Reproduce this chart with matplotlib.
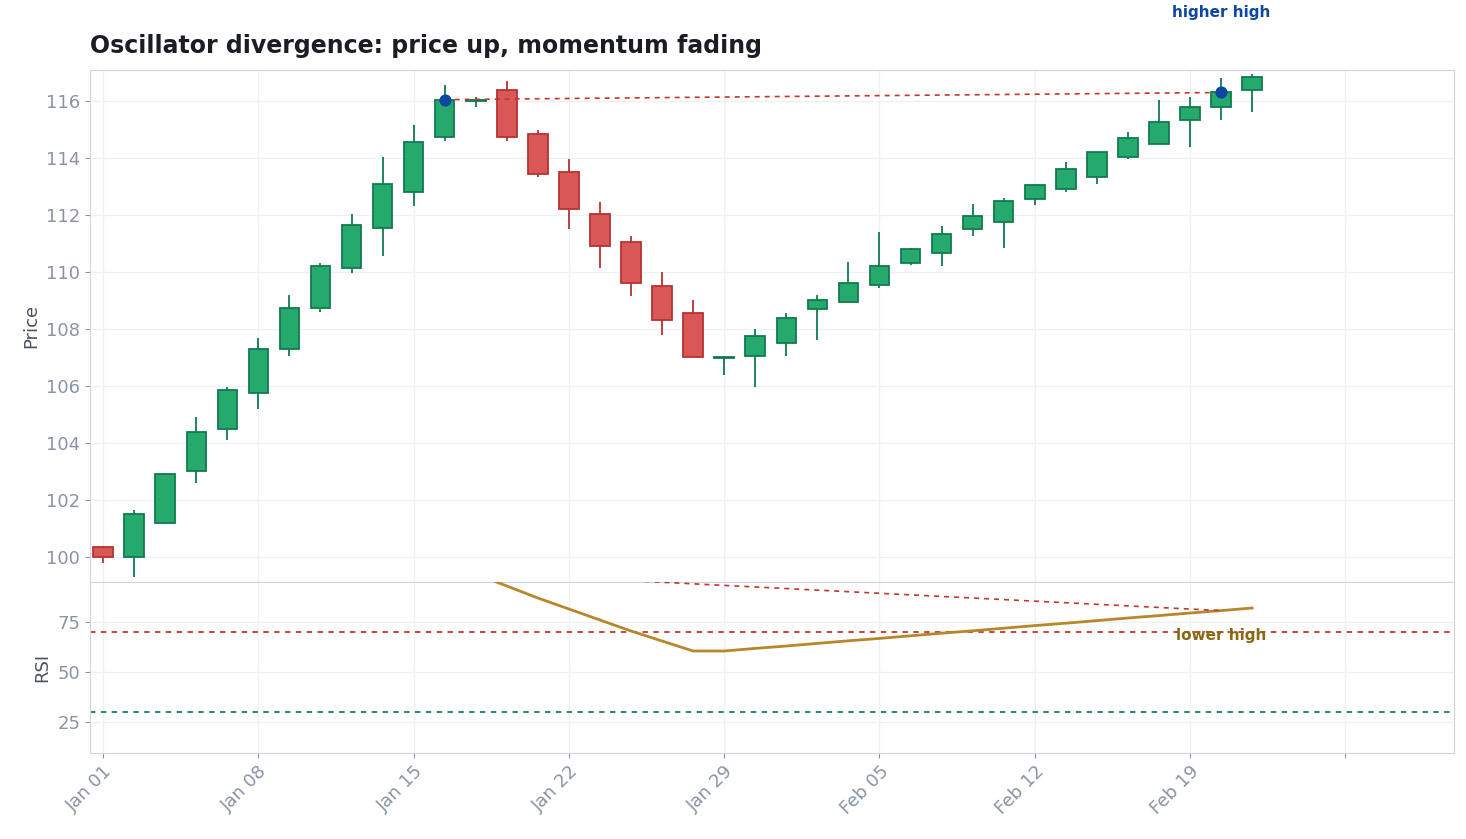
import numpy as np
import pandas as pd
from matplotlib import pyplot as plt

# candles (open, high, low, close)
opens  = [100.34, 100.0, 101.2, 103.0, 104.5, 105.75, 107.3, 108.75, 110.15, 111.55, 112.8, 114.75,
          116.0, 116.4, 114.85, 113.5, 112.05, 111.05, 109.5, 108.55, 106.98, 107.05, 107.5, 108.7,
          108.95, 109.55, 110.3, 110.65, 111.5, 111.75, 112.55, 112.9, 113.35, 114.05, 114.5, 115.35,
          115.8, 116.4]
highs  = [100.39, 101.65, 102.95, 104.9, 105.95, 107.7, 109.2, 110.3, 112.05, 114.05, 115.15, 116.55,
          116.15, 116.7, 115.0, 113.95, 112.45, 111.25, 110.0, 109.0, 107.05, 108.0, 108.55, 109.2,
          110.35, 111.4, 110.85, 111.6, 112.4, 112.6, 113.05, 113.85, 114.2, 114.9, 116.05, 116.15,
          116.8, 116.95]
lows   = [99.8, 99.3, 101.15, 102.6, 104.1, 105.2, 107.05, 108.6, 109.95, 110.55, 112.3, 114.6,
          115.8, 114.6, 113.35, 111.5, 110.15, 109.15, 107.8, 107.0, 106.4, 105.95, 107.05, 107.6,
          108.95, 109.45, 110.25, 110.2, 111.25, 110.85, 112.35, 112.8, 113.1, 113.95, 114.5, 114.4,
          115.35, 115.6]
closes = [100.0, 101.5, 102.9, 104.4, 105.85, 107.3, 108.75, 110.2, 111.65, 113.1, 114.55, 116.05,
          116.02, 114.75, 113.45, 112.2, 110.9, 109.6, 108.3, 107.0, 107.02, 107.75, 108.4, 109.0,
          109.6, 110.2, 110.8, 111.35, 111.95, 112.5, 113.05, 113.6, 114.2, 114.7, 115.25, 115.8,
          116.3, 116.85]
rsi = [np.nan] * 11 + [100.4,
       99, 93, 87, 81.5, 76, 70.5, 65.5, 60.5, 60.5, 61.8, 63.0, 64.3,
       65.6, 66.8, 68.1, 69.4, 70.6, 71.9, 73.2, 74.4, 75.7, 77.0, 78.2, 79.5,
       80.7, 82.0]
pivots = [11, 36]
tick_labels = ["Jan 01", "Jan 08", "Jan 15", "Jan 22", "Jan 29", "Feb 05", "Feb 12", "Feb 19", ""]

x = np.arange(len(opens)) * 1.4  # days since Jan 01

GREEN, GREEN_E = "#26a96c", "#117a4f"
RED, RED_E = "#d95757", "#b83232"
GRID, SPINE, TICK = "#eef0f4", "#cfd4de", "#8a94a6"

fig = plt.figure(figsize=(14.66, 8.39), dpi=100)
ax = fig.add_axes([0.0614, 0.3063, 0.9304, 0.6103])
ax2 = fig.add_axes([0.0614, 0.1025, 0.9304, 0.2038], sharex=ax)

for i in range(len(x)):
    up = closes[i] >= opens[i]
    fc, ec = (GREEN, GREEN_E) if up else (RED, RED_E)
    ax.vlines(x[i], lows[i], highs[i], color=ec, lw=1.3, zorder=2)
    lo, hi = min(opens[i], closes[i]), max(opens[i], closes[i])
    ax.bar(x[i], max(hi - lo, 0.04), bottom=lo, width=0.88, color=fc, edgecolor=ec, lw=1.3, zorder=3)

px = [x[p] for p in pivots]
ax.plot(px, [closes[p] for p in pivots], ls=(0, (3, 3)), color="#c0392b", lw=1.2, zorder=4)
ax.scatter(px, [closes[p] for p in pivots], s=60, color="#0d47a1", zorder=5)
ax.annotate("higher high", (px[1], 1.0), xycoords=("data", "axes fraction"), xytext=(0, 36),
            textcoords="offset points", ha="center", va="bottom", color="#0d47a1",
            fontsize=11, fontweight="bold", annotation_clip=False)

ax2.plot(x, rsi, color="#b8862b", lw=2, zorder=3)
ax2.plot(px, [rsi[p] for p in pivots], ls=(0, (3, 3)), color="#c0392b", lw=1.2, zorder=4)
ax2.axhline(70, ls=(0, (3, 3)), color="#c0392b", lw=1.3)
ax2.axhline(30, ls=(0, (3, 3)), color="#1a7f5a", lw=1.3)
ax2.text(px[1], 68.5, "lower high", ha="center", va="center", color="#8b6914",
         fontsize=11, fontweight="bold")

ax.set_xlim(-0.59, 60.9)
ax.set_ylim(99.12, 117.09)
ax.set_yticks(range(100, 117, 2))
ax2.set_ylim(9.5, 95)
ax2.set_yticks([25, 50, 75])
ax2.set_xticks(np.arange(0, 57, 7))
ax2.set_xticklabels(tick_labels, rotation=45, ha="right", rotation_mode="anchor")
plt.setp(ax.get_xticklabels(), visible=False)
ax.tick_params(axis="x", length=0)

for a in (ax, ax2):
    a.grid(True, color=GRID, lw=1)
    a.set_axisbelow(True)
    a.tick_params(colors=TICK, labelsize=13)
    for s in a.spines.values():
        s.set_color(SPINE)
ax.set_ylabel("Price", fontsize=13, color="#4a5160")
ax2.set_ylabel("RSI", fontsize=13, color="#4a5160")
ax.set_title("Oscillator divergence: price up, momentum fading", loc="left",
             fontsize=17, fontweight="bold", color="#1a1d23", pad=12)

fig.savefig("out.png", dpi=100)
